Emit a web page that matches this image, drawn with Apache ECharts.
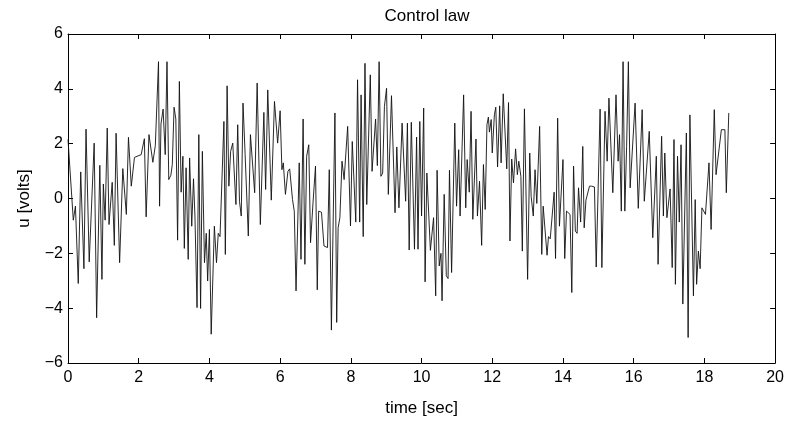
<!DOCTYPE html>
<html><head><meta charset="utf-8">
<script src="https://cdn.jsdelivr.net/npm/echarts@6/dist/echarts.min.js"></script>
<style>html,body{margin:0;padding:0;background:#fff}#c{width:787px;height:422px}</style>
</head><body><div id="c"></div>
<script>
var xTicks = [0,2,4,6,8,10,12,14,16,18,20];
var yTicks = [-6,-4,-2,0,2,4,6];
var times = [0.00,0.15,0.21,0.29,0.36,0.45,0.51,0.60,0.74,0.81,0.90,0.96,1.00,1.05,1.11,1.16,1.25,1.31,1.36,1.46,1.55,1.65,1.71,1.79,1.88,2.07,2.16,2.21,2.29,2.40,2.47,2.52,2.56,
2.59,2.63,2.69,2.75,2.80,2.85,2.91,2.95,3.00,3.05,3.10,3.15,3.20,3.25,3.29,3.34,3.40,3.44,3.50,3.55,3.59,3.65,3.70,3.75,3.80,3.86,3.91,3.95,4.00,4.05,4.14,4.20,4.25,4.30,4.41,4.45,4.50,4.55,4.60,4.66,4.71,4.75,4.80,4.85,4.90,4.95,5.01,5.10,5.16,5.21,
5.28,5.35,5.44,5.54,5.59,5.65,5.75,5.84,5.93,6.00,6.05,6.09,6.15,6.22,6.27,6.35,6.40,6.45,6.54,6.59,6.65,6.70,6.75,6.81,6.86,6.93,7.00,7.05,7.09,7.17,7.24,7.34,7.39,7.45,7.55,7.60,7.64,7.69,7.75,7.81,7.91,
7.99,8.04,8.14,8.19,8.25,8.29,8.35,8.40,8.45,8.55,8.60,8.70,8.75,8.80,8.85,8.90,8.95,9.01,9.06,9.15,9.25,9.30,9.36,9.45,9.55,9.60,9.65,9.71,9.80,9.86,9.90,9.95,10.00,10.06,10.10,10.15,10.25,10.34,10.40,10.44,10.50,10.55,
10.58,10.64,10.70,10.75,10.79,10.85,10.94,10.99,11.05,11.09,11.19,11.25,11.29,11.35,11.40,11.45,11.54,11.58,11.64,11.70,11.75,11.80,11.85,11.89,11.92,11.97,12.00,12.06,12.10,12.15,12.21,12.25,12.31,12.36,12.41,12.46,12.50,12.55,12.60,12.66,12.71,12.75,12.81,12.85,12.91,13.00,13.06,13.10,13.16,13.21,13.26,
13.28,13.34,13.40,13.44,13.49,13.55,13.59,13.64,13.69,13.75,13.79,13.85,13.90,13.94,14.00,14.05,14.10,14.15,14.20,14.25,14.30,14.35,14.40,14.44,14.50,14.56,14.60,14.65,14.70,14.75,14.81,14.89,14.94,15.05,15.10,15.19,15.25,15.30,15.41,15.50,15.56,15.60,15.65,15.70,15.75,15.80,15.85,15.90,
16.04,16.13,16.24,16.30,16.44,16.54,16.64,16.69,16.79,16.84,16.88,16.94,17.03,17.09,17.14,17.18,17.24,17.29,17.34,17.39,17.49,17.54,17.59,17.69,17.74,17.78,17.83,17.88,17.93,18.03,18.13,18.19,18.28,18.33,18.38,18.48,18.58,18.62,18.69];
var volts = [2.15,-0.79,-0.28,-3.10,0.97,-2.56,2.53,-2.31,2.02,-4.35,1.21,-2.95,0.53,-0.79,2.57,-0.95,0.59,-1.71,2.38,-2.34,1.09,-0.58,2.23,0.45,1.50,1.60,2.18,-0.67,2.33,1.32,1.93,1.90,4.99,
-0.28,2.72,3.26,1.60,4.99,0.69,0.85,1.24,3.33,2.90,-1.52,4.27,0.23,1.54,-1.82,1.12,-2.22,1.48,-1.01,0.72,-0.64,-3.98,2.33,-4.01,1.72,-2.34,-1.27,-3.01,-1.13,-4.95,-1.01,-2.34,-1.27,-1.39,2.81,-2.04,4.11,0.45,1.72,2.02,0.75,-0.22,2.69,-0.10,-0.64,3.48,1.60,-1.37,2.33,2.36,
0.21,4.21,-0.95,3.14,0.33,3.96,-0.06,3.54,2.02,3.20,1.05,1.30,0.15,0.99,1.08,-0.04,-0.46,-3.37,1.30,-2.22,2.90,-2.40,1.54,1.96,-1.61,-0.16,1.18,-3.33,-0.46,-0.50,-1.73,-1.79,1.05,-4.80,3.12,-4.52,-1.07,-0.70,1.36,0.69,2.63,
-1.00,2.08,-0.86,4.33,-0.86,3.78,-1.39,4.93,-0.22,4.51,0.99,2.90,1.20,4.99,0.81,0.93,3.36,4.02,0.15,3.75,-0.52,1.88,-0.34,2.75,-0.10,2.75,-1.88,2.78,-1.85,2.24,-1.85,2.81,-0.64,3.30,-3.04,0.93,-1.89,-0.70,-3.55,1.03,-2.46,-2.00,
-3.73,0.15,-2.82,-2.92,1.03,-2.70,2.75,-0.28,1.78,-0.64,3.78,-0.34,1.42,0.23,3.18,-0.76,2.17,-0.64,0.63,-1.71,1.24,-0.40,2.69,2.97,2.42,2.88,1.66,3.05,3.33,1.15,3.38,1.30,3.82,3.84,1.08,3.50,-1.55,1.44,0.57,1.81,0.87,1.36,0.81,-1.92,3.27,-2.95,1.66,0.08,-0.64,1.05,-0.18,
-0.22,2.63,-2.04,-0.28,-0.30,-2.07,-1.39,-1.47,-1.47,0.23,-2.19,2.93,-1.01,-1.07,1.42,-2.19,-0.46,-0.50,-0.58,-3.43,1.18,-1.19,-1.27,0.39,-0.86,1.90,-1.07,-0.06,-0.04,0.45,0.45,0.42,-2.50,3.26,-2.52,3.18,1.36,3.66,0.21,3.78,1.36,2.33,-0.46,4.99,-0.46,1.90,4.99,0.39,
3.48,-0.36,3.24,-0.10,2.45,-1.43,1.54,-2.40,2.27,-0.64,1.66,-0.70,0.35,-2.52,2.15,-3.13,1.54,-0.86,1.96,-3.85,2.39,-5.07,3.05,-3.55,-0.04,-3.13,-1.92,-2.56,-0.34,-0.58,1.30,-1.13,3.24,0.87,0.81,2.51,2.51,0.21,3.12];

var data = times.map(function(t,i){return [t, volts[i]];});
var font = '"Liberation Sans", Arial, Helvetica, sans-serif';
var axLine = {show:true, onZero:false, lineStyle:{color:'#000', width:1}};
var tick = {show:true, inside:true, length:5, lineStyle:{color:'#000', width:1}};
var chart = echarts.init(document.getElementById('c'), null, {renderer:'canvas'});
chart.setOption({
  animation:false,
  backgroundColor:'#fff',
  title:{text:'Control law', left:422, top:3, textAlign:'center',
    textStyle:{fontFamily:font, fontSize:17, fontWeight:'normal', color:'#000'}},
  grid:{left:68, right:11, top:34, bottom:58, containLabel:false},
  xAxis:[
    {type:'value', min:xTicks[0], max:xTicks[xTicks.length-1], interval:2, position:'bottom',
     name:'time [sec]', nameLocation:'middle', nameGap:37,
     nameTextStyle:{fontFamily:font, fontSize:17, color:'#000'},
     axisLine:axLine, axisTick:tick, splitLine:{show:false},
     axisLabel:{fontFamily:font, fontSize:16, color:'#000', margin:7}},
    {type:'value', min:xTicks[0], max:xTicks[xTicks.length-1], interval:2, position:'top',
     axisLine:axLine, axisTick:tick, splitLine:{show:false}, axisLabel:{show:false}}
  ],
  yAxis:[
    {type:'value', min:yTicks[0], max:yTicks[yTicks.length-1], interval:2, position:'left',
     name:'u [volts]', nameLocation:'middle', nameGap:35, nameRotate:90,
     nameTextStyle:{fontFamily:font, fontSize:17, color:'#000'},
     axisLine:axLine, axisTick:tick, splitLine:{show:false},
     axisLabel:{fontFamily:font, fontSize:16, color:'#000', margin:5,
       formatter:function(v){return v<0 ? '\u2212'+Math.abs(v) : ''+v;}}},
    {type:'value', min:yTicks[0], max:yTicks[yTicks.length-1], interval:2, position:'right',
     axisLine:axLine, axisTick:tick, splitLine:{show:false}, axisLabel:{show:false}}
  ],
  series:[{type:'line', data:data, xAxisIndex:0, yAxisIndex:0, showSymbol:false, symbol:'none',
    lineStyle:{color:'#111', width:0.9}}]
});
</script></body></html>
